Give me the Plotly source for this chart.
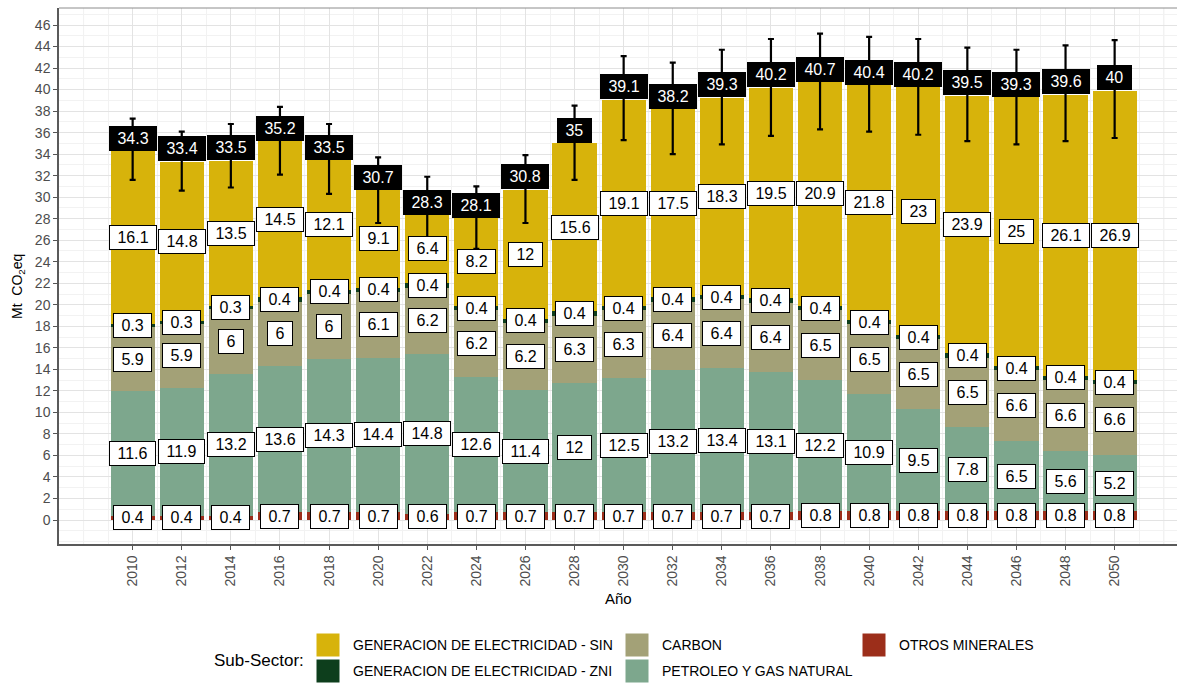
import plotly.graph_objects as go

# ---------------- data ----------------
years = [2010, 2012, 2014, 2016, 2018, 2020, 2022, 2024, 2026, 2028, 2030,
         2032, 2034, 2036, 2038, 2040, 2042, 2044, 2046, 2048, 2050]
otros = [0.4, 0.4, 0.4, 0.7, 0.7, 0.7, 0.6, 0.7, 0.7, 0.7, 0.7,
         0.7, 0.7, 0.7, 0.8, 0.8, 0.8, 0.8, 0.8, 0.8, 0.8]
petroleo = [11.6, 11.9, 13.2, 13.6, 14.3, 14.4, 14.8, 12.6, 11.4, 12, 12.5,
            13.2, 13.4, 13.1, 12.2, 10.9, 9.5, 7.8, 6.5, 5.6, 5.2]
carbon = [5.9, 5.9, 6, 6, 6, 6.1, 6.2, 6.2, 6.2, 6.3, 6.3,
          6.4, 6.4, 6.4, 6.5, 6.5, 6.5, 6.5, 6.6, 6.6, 6.6]
zni = [0.3, 0.3, 0.3, 0.4, 0.4, 0.4, 0.4, 0.4, 0.4, 0.4, 0.4,
       0.4, 0.4, 0.4, 0.4, 0.4, 0.4, 0.4, 0.4, 0.4, 0.4]
sin = [16.1, 14.8, 13.5, 14.5, 12.1, 9.1, 6.4, 8.2, 12, 15.6, 19.1,
       17.5, 18.3, 19.5, 20.9, 21.8, 23, 23.9, 25, 26.1, 26.9]
totals = [34.3, 33.4, 33.5, 35.2, 33.5, 30.7, 28.3, 28.1, 30.8, 35, 39.1,
          38.2, 39.3, 40.2, 40.7, 40.4, 40.2, 39.5, 39.3, 39.6, 40]
err_low = [31.6, 30.6, 30.9, 32.1, 30.3, 27.6, 26.3, 25.2, 27.6, 31.6, 35.3,
           34.0, 34.9, 35.7, 36.3, 36.1, 35.8, 35.2, 34.9, 35.2, 35.5]
err_high = [37.3, 36.1, 36.8, 38.4, 36.8, 33.7, 31.9, 31.0, 33.9, 38.5, 43.1,
            42.5, 43.7, 44.7, 45.2, 44.9, 44.7, 43.9, 43.7, 44.1, 44.6]
y_ticks = list(range(0, 48, 2))

series_names = ["OTROS MINERALES", "PETROLEO Y GAS NATURAL", "CARBON",
                "GENERACION DE ELECTRICIDAD - ZNI", "GENERACION DE ELECTRICIDAD - SIN"]
series_values = [otros, petroleo, carbon, zni, sin]
series_colors = ["#9C2E1A", "#7DA78D", "#A3A177", "#0D3E1C", "#D7B30B"]

# ---------------- layout geometry (pixels) ----------------
W, H = 1177, 683
PL, PR, PT, PB = 59, 1177, 8, 544


def px_x(p):
    return (p - PL) / (PR - PL)


def px_y(p):
    return (PB - p) / (PB - PT)


fig = go.Figure()

for name, vals, col in zip(series_names, series_values, series_colors):
    fig.add_trace(go.Bar(
        x=years, y=vals, name=name, width=1.8,
        marker=dict(color=col, line=dict(width=0)),
        showlegend=False, hoverinfo="skip",
    ))

# error bars
fig.add_trace(go.Scatter(
    x=years, y=totals, mode="markers",
    marker=dict(size=1, opacity=0),
    error_y=dict(type="data", symmetric=False,
                 array=[h - t for h, t in zip(err_high, totals)],
                 arrayminus=[t - l for l, t in zip(err_low, totals)],
                 color="black", thickness=2.2, width=3),
    showlegend=False, hoverinfo="skip",
))

annotations = []
FONT_FAM = "Liberation Sans, Arial, sans-serif"
LABEL_FONT = dict(family=FONT_FAM, size=16, color="black")

# segment labels
for i, yr in enumerate(years):
    base = 0.0
    for vals in series_values:
        v = vals[i]
        annotations.append(dict(
            x=yr, y=base + v / 2, xref="x", yref="y",
            xanchor="center", yanchor="middle",
            text=" " + f"{v:g}" + " ", showarrow=False,
            font=LABEL_FONT, bgcolor="white", bordercolor="black",
            borderwidth=1, borderpad=3,
        ))
        base += v
    annotations.append(dict(
        x=yr, y=totals[i], xref="x", yref="y", xanchor="center", yanchor="bottom",
        text=" " + f"{totals[i]:g}" + " ", showarrow=False,
        font=dict(family=FONT_FAM, size=16, color="white"),
        bgcolor="black", bordercolor="black", borderwidth=1, borderpad=3,
    ))

# axis titles
annotations.append(dict(
    x=px_x(18), y=px_y(287), xref="paper", yref="paper",
    xanchor="center", yanchor="middle",
    text="Mt  CO<sub>2</sub>eq", textangle=-90, showarrow=False,
    font=dict(family=FONT_FAM, size=14, color="black"),
))
annotations.append(dict(
    x=px_x(618), y=px_y(598), xref="paper", yref="paper",
    xanchor="center", yanchor="middle",
    text="Año", showarrow=False,
    font=dict(family=FONT_FAM, size=15, color="black"),
))

# manual legend
shapes = []
LEG_FONT = dict(family=FONT_FAM, size=14, color="black")
annotations.append(dict(
    x=px_x(306), y=px_y(661), xref="paper", yref="paper",
    xanchor="right", yanchor="middle",
    text="Sub-Sector:", showarrow=False,
    font=dict(family=FONT_FAM, size=17, color="black"),
))
legend_items = [
    ("GENERACION DE ELECTRICIDAD - SIN", series_colors[4], 316, 633),
    ("GENERACION DE ELECTRICIDAD - ZNI", series_colors[3], 316, 659),
    ("CARBON", series_colors[2], 625, 633),
    ("PETROLEO Y GAS NATURAL", series_colors[1], 625, 659),
    ("OTROS MINERALES", series_colors[0], 862, 633),
]
for name, col, kx, ky in legend_items:
    shapes.append(dict(
        type="rect", xref="paper", yref="paper",
        x0=px_x(kx), x1=px_x(kx + 24), y0=px_y(ky + 24), y1=px_y(ky),
        fillcolor=col, line=dict(width=1, color="white"),
    ))
    annotations.append(dict(
        x=px_x(kx + 35), y=px_y(ky + 12), xref="paper", yref="paper",
        xanchor="left", yanchor="middle", text=name, showarrow=False, font=LEG_FONT,
    ))

# extra major grid lines at 2008 and 2052 and top border
for gx in [2008, 2052]:
    shapes.append(dict(type="line", xref="x", yref="paper", x0=gx, x1=gx, y0=0, y1=1,
                       line=dict(color="#E3E3E3", width=1), layer="below"))
shapes.append(dict(type="line", xref="paper", yref="paper", x0=0, x1=1, y0=1, y1=1,
                   line=dict(color="#8C8C8C", width=1)))

fig.update_layout(
    width=W, height=H, barmode="stack", bargap=0,
    paper_bgcolor="white", plot_bgcolor="white",
    margin=dict(l=PL, r=W - PR, t=PT, b=H - PB),
    annotations=annotations, shapes=shapes,
    font=dict(family=FONT_FAM),
    xaxis=dict(
        range=[2007, 2052.54], tickvals=years, ticktext=[str(y) for y in years],
        tickangle=-90, tickfont=dict(size=14, color="#4D4D4D"),
        ticks="outside", ticklen=4, tickcolor="#555555", tickwidth=1,
        showline=True, linecolor="#5A5A5A", linewidth=1.5,
        showgrid=True, gridcolor="#E3E3E3", gridwidth=1, zeroline=False,
        minor=dict(dtick=1, tick0=2007, showgrid=True, gridcolor="#F2F2F2", ticks=""),
    ),
    yaxis=dict(
        range=[-2.23, 47.58], tickvals=y_ticks, ticktext=[str(t) for t in y_ticks],
        tickfont=dict(size=14, color="#4D4D4D"),
        ticks="outside", ticklen=4, tickcolor="#555555", tickwidth=1,
        showline=True, linecolor="#5A5A5A", linewidth=1.5,
        showgrid=True, gridcolor="#E3E3E3", gridwidth=1, zeroline=False,
        minor=dict(dtick=1, tick0=0, showgrid=True, gridcolor="#F2F2F2", ticks=""),
    ),
)

fig.write_html(
    "out.html",
    config={"displayModeBar": False},
    post_script="document.body.style.margin='0px';document.body.style.overflow='hidden';",
)
